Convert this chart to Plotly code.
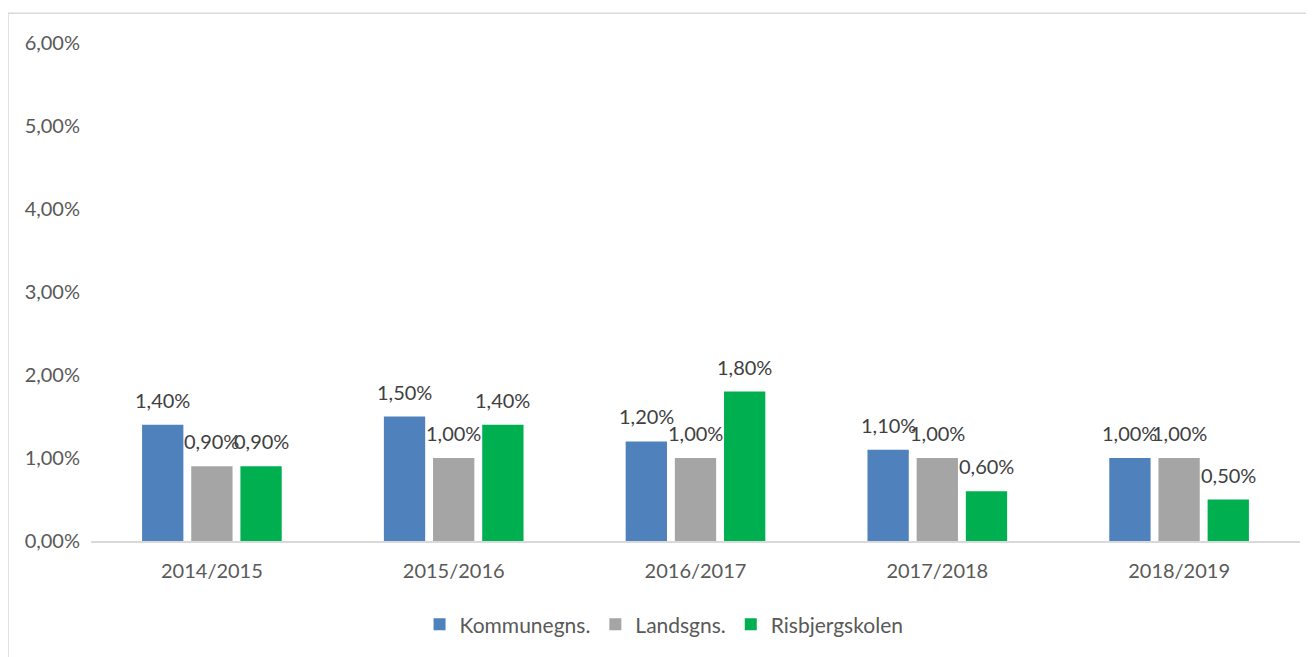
import plotly.graph_objects as go

# school years and absence rates (percent)
years = ["2014/2015", "2015/2016", "2016/2017", "2017/2018", "2018/2019"]
kommune = [1.4, 1.5, 1.2, 1.1, 1.0]
lands = [0.9, 1.0, 1.0, 1.0, 1.0]
risbjerg = [0.9, 1.4, 1.8, 0.6, 0.5]

series = [
    ("Kommunegns.", kommune, "#4F81BD"),
    ("Landsgns.", lands, "#A5A5A5"),
    ("Risbjergskolen", risbjerg, "#00B050"),
]

FONT = "Lato"

# figure is placed 8px in by the page body margin, so size it to fit
W, H = 1306, 649
L, R, T, B = 83, 14, 35, 113
BARGAP = 0.39
plot_w = W - L - R
slot = plot_w / len(years) * (1 - BARGAP) / len(series)

fig = go.Figure()
annotations = []
for i, (name, vals, color) in enumerate(series):
    fig.add_trace(
        go.Bar(
            x=years,
            y=vals,
            name=name,
            marker=dict(color=color, line=dict(width=0)),
        )
    )
    # data labels sit above each bar like excel's "outside end"
    for yr, v in zip(years, vals):
        annotations.append(
            dict(
                x=yr,
                y=v,
                xref="x",
                yref="y",
                text=f"{v:.2f}%".replace(".", ","),
                showarrow=False,
                xanchor="center",
                yanchor="bottom",
                xshift=(i - 1) * slot,
                yshift=11,
                font=dict(family=FONT, size=20, color="#404040"),
            )
        )

fig.update_layout(
    width=W,
    height=H,
    margin=dict(l=L, r=R, t=T, b=B),
    paper_bgcolor="white",
    plot_bgcolor="white",
    separators=",.",
    barmode="group",
    bargap=BARGAP,
    bargroupgap=0.16,
    font=dict(family=FONT, size=20, color="#595959"),
    showlegend=True,
    legend=dict(
        orientation="h",
        x=0.474,
        xanchor="center",
        y=-0.168,
        yanchor="middle",
        font=dict(family=FONT, size=21, color="#595959"),
        itemwidth=30,
        traceorder="normal",
    ),
    xaxis=dict(
        showgrid=False,
        showline=True,
        linecolor="#D9D9D9",
        linewidth=1.5,
        ticks="",
        ticklabelstandoff=11,
        tickfont=dict(family=FONT, size=20, color="#595959"),
    ),
    yaxis=dict(
        range=[0, 6],
        dtick=1,
        tickformat=".2f",
        ticksuffix="%",
        showgrid=False,
        zeroline=False,
        showline=False,
        ticks="",
        ticklabelstandoff=10,
        tickfont=dict(family=FONT, size=20, color="#595959"),
    ),
    annotations=annotations,
    shapes=[
        dict(
            type="rect",
            xref="paper",
            yref="paper",
            x0=-L / plot_w,
            x1=(W - L) / plot_w,
            y0=-(B + 20) / 501,
            y1=1 + (T - 5) / 501,
            line=dict(color="#D9D9D9", width=1.5),
            fillcolor="rgba(0,0,0,0)",
            layer="below",
        )
    ],
)

fig.write_html("out.html")
